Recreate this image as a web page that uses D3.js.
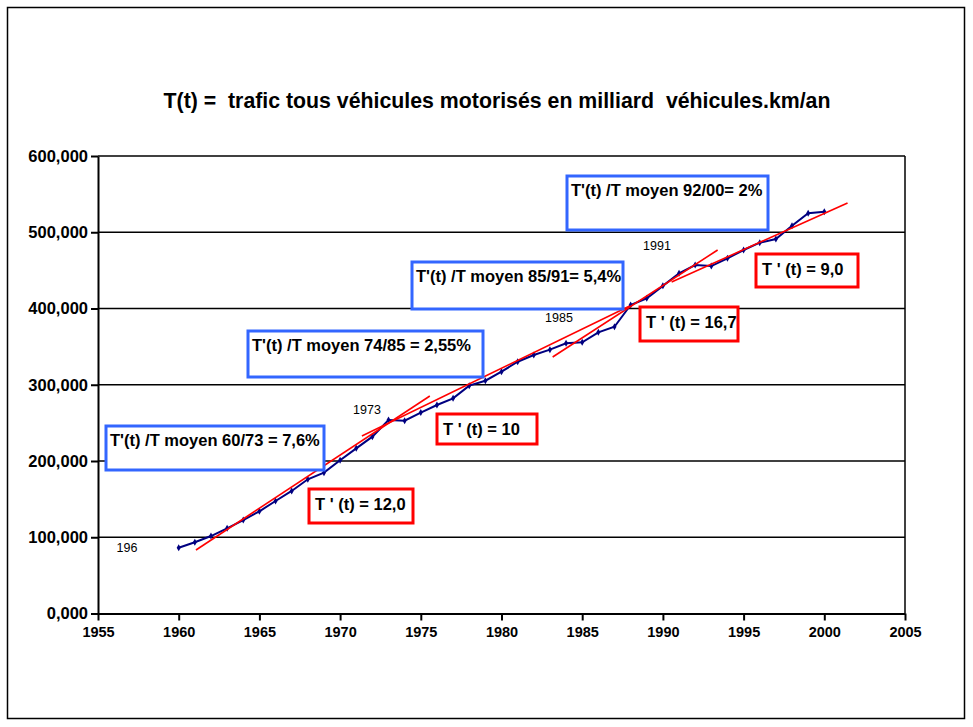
<!DOCTYPE html>
<html>
<head>
<meta charset="utf-8">
<script src="https://cdn.jsdelivr.net/npm/d3@7/dist/d3.min.js"></script>
<style>
  html, body { margin: 0; padding: 0; background: #fff; }
  svg { display: block; font-family: Arial, "Liberation Sans", sans-serif; }
</style>
</head>
<body>
<svg id="chart" width="973" height="727"></svg>
<script>
// Traffic, all motorised vehicles (billion vehicle-km per year)
const years = [1960,1961,1962,1963,1964,1965,1966,1967,1968,1969,1970,1971,1972,1973,1974,1975,1976,1977,1978,1979,1980,1981,1982,1983,1984,1985,1986,1987,1988,1989,1990,1991,1992,1993,1994,1995,1996,1997,1998,1999,2000];
const traffic = [86.3,93.4,101.6,111.7,122.6,134.0,147.5,160.7,176.0,184.7,201.0,216.6,231.9,253.8,252.9,263.5,273.4,282.2,298.8,305.3,317.1,330.2,339.0,346.0,354.4,355.7,368.8,376.1,404.6,413.4,429.7,446.2,457.0,455.7,465.8,476.7,486.3,491.1,508.6,524.9,527.0];

// Tangent segments: [year start, value start, year end, value end]
const tangents = [
  [1961.07, 83.3, 1975.56, 285.2],
  [1971.35, 232.8, 1987.94, 403.3],
  [1983.17, 336.4, 1993.39, 476.7],
  [1990.54, 434.8, 2001.44, 538.4]
];

// Axis ticks
const xTicks = [1955,1960,1965,1970,1975,1980,1985,1990,1995,2000,2005];
const yTicks = [0,100,200,300,400,500,600];
const yTickLabels = ["0,000","100,000","200,000","300,000","400,000","500,000","600,000"];

// Annotation texts
const title = "T(t) =  trafic tous véhicules motorisés en milliard  véhicules.km/an";
const meanRateTexts = [
  "T'(t) /T moyen 60/73 = 7,6%",
  "T'(t) /T moyen 74/85 = 2,55%",
  "T'(t) /T moyen 85/91= 5,4%",
  "T'(t) /T moyen 92/00= 2%"
];
const slopeTexts = ["T ' (t) = 12,0", "T ' (t) = 10", "T ' (t) = 16,7", "T ' (t) = 9,0"];
const yearMarks = ["196", "1973", "1985", "1991"];

// Layout
const plot = { left: 98, right: 905, top: 156, bottom: 613.5 };
const meanBoxes = [
  { x: 106, y: 426, w: 218, h: 44 },
  { x: 248, y: 331, w: 235, h: 46 },
  { x: 412, y: 262, w: 211, h: 47 },
  { x: 567, y: 176, w: 201, h: 54 }
];
const slopeBoxes = [
  { x: 309, y: 489, w: 104, h: 34 },
  { x: 437, y: 414, w: 100, h: 30 },
  { x: 640, y: 307, w: 98, h: 34 },
  { x: 756, y: 254, w: 102, h: 33 }
];
const yearMarkPos = [[127,547],[367,409],[559,317],[657,245]];

const svg = d3.select("#chart");

const x = d3.scaleLinear().domain([1955, 2005]).range([plot.left, plot.right]);
const y = d3.scaleLinear().domain([0, 600]).range([plot.bottom, plot.top]);

// Outer frame
svg.append("rect")
  .attr("x", 7.5).attr("y", 7.5).attr("width", 957).attr("height", 711)
  .attr("fill", "none").attr("stroke", "#000").attr("stroke-width", 1.5);

// Title
svg.append("text")
  .attr("x", 497).attr("y", 108)
  .attr("text-anchor", "middle")
  .attr("font-size", 21.3).attr("font-weight", "bold")
  .attr("xml:space", "preserve")
  .style("white-space", "pre")
  .text(title);

// Horizontal gridlines
svg.append("g").selectAll("line")
  .data(yTicks.filter(d => d > 0))
  .join("line")
  .attr("x1", plot.left).attr("x2", plot.right)
  .attr("y1", d => y(d)).attr("y2", d => y(d))
  .attr("stroke", "#000").attr("stroke-width", 1.5);

// Right edge of plot area
svg.append("line")
  .attr("x1", plot.right).attr("x2", plot.right)
  .attr("y1", plot.top).attr("y2", plot.bottom)
  .attr("stroke", "#000").attr("stroke-width", 1.5);

// Y axis
const yAxis = d3.axisLeft(y)
  .tickValues(yTicks)
  .tickFormat((d, i) => yTickLabels[i])
  .tickSize(7).tickSizeOuter(0).tickPadding(3);
const gy = svg.append("g").attr("transform", `translate(${plot.left},0)`).call(yAxis);
gy.select(".domain").attr("stroke-width", 2);
gy.selectAll(".tick line").attr("stroke-width", 2);
gy.selectAll(".tick text")
  .attr("font-size", 16.5).attr("font-weight", "bold")
  .attr("font-family", "Arial, 'Liberation Sans', sans-serif").attr("fill", "#000");

// X axis
const xAxis = d3.axisBottom(x)
  .tickValues(xTicks)
  .tickFormat(d3.format("d"))
  .tickSize(7).tickSizeOuter(0).tickPadding(6);
const gx = svg.append("g").attr("transform", `translate(0,${plot.bottom})`).call(xAxis);
gx.select(".domain").attr("stroke-width", 2);
gx.selectAll(".tick line").attr("stroke-width", 2);
gx.selectAll(".tick text")
  .attr("font-size", 14.5).attr("font-weight", "bold")
  .attr("font-family", "Arial, 'Liberation Sans', sans-serif").attr("fill", "#000");

// Traffic series
const series = years.map((yr, i) => ({ yr, v: traffic[i] }));
svg.append("path")
  .datum(series)
  .attr("fill", "none")
  .attr("stroke", "#000080")
  .attr("stroke-width", 2)
  .attr("d", d3.line().x(d => x(d.yr)).y(d => y(d.v)));

svg.append("g").selectAll("path")
  .data(series)
  .join("path")
  .attr("transform", d => `translate(${x(d.yr)},${y(d.v)})`)
  .attr("d", d3.symbol(d3.symbolDiamond, 14))
  .attr("fill", "#000080");

// Tangent lines
svg.append("g").selectAll("line")
  .data(tangents)
  .join("line")
  .attr("x1", d => x(d[0])).attr("y1", d => y(d[1]))
  .attr("x2", d => x(d[2])).attr("y2", d => y(d[3]))
  .attr("stroke", "#ff0000").attr("stroke-width", 1.6);

// Year marks
svg.append("g").selectAll("text")
  .data(yearMarks)
  .join("text")
  .attr("x", (d, i) => yearMarkPos[i][0])
  .attr("y", (d, i) => yearMarkPos[i][1] + 4.5)
  .attr("text-anchor", "middle")
  .attr("font-size", 12.5)
  .attr("fill", "#000")
  .text(d => d);

// Mean growth-rate boxes
const mean = svg.append("g").selectAll("g")
  .data(meanRateTexts)
  .join("g");
mean.append("rect")
  .attr("x", (d, i) => meanBoxes[i].x).attr("y", (d, i) => meanBoxes[i].y)
  .attr("width", (d, i) => meanBoxes[i].w).attr("height", (d, i) => meanBoxes[i].h)
  .attr("fill", "#fff").attr("stroke", "#3366ff").attr("stroke-width", 3);
mean.append("text")
  .attr("x", (d, i) => meanBoxes[i].x + 4)
  .attr("y", (d, i) => meanBoxes[i].y + 20)
  .attr("font-size", 16.5).attr("font-weight", "bold")
  .text(d => d);

// Slope boxes
const slope = svg.append("g").selectAll("g")
  .data(slopeTexts)
  .join("g");
slope.append("rect")
  .attr("x", (d, i) => slopeBoxes[i].x).attr("y", (d, i) => slopeBoxes[i].y)
  .attr("width", (d, i) => slopeBoxes[i].w).attr("height", (d, i) => slopeBoxes[i].h)
  .attr("fill", "#fff").attr("stroke", "#ff0000").attr("stroke-width", 3);
slope.append("text")
  .attr("x", (d, i) => slopeBoxes[i].x + 6)
  .attr("y", (d, i) => slopeBoxes[i].y + 21)
  .attr("font-size", 16.5).attr("font-weight", "bold")
  .text(d => d);
</script>
</body>
</html>
